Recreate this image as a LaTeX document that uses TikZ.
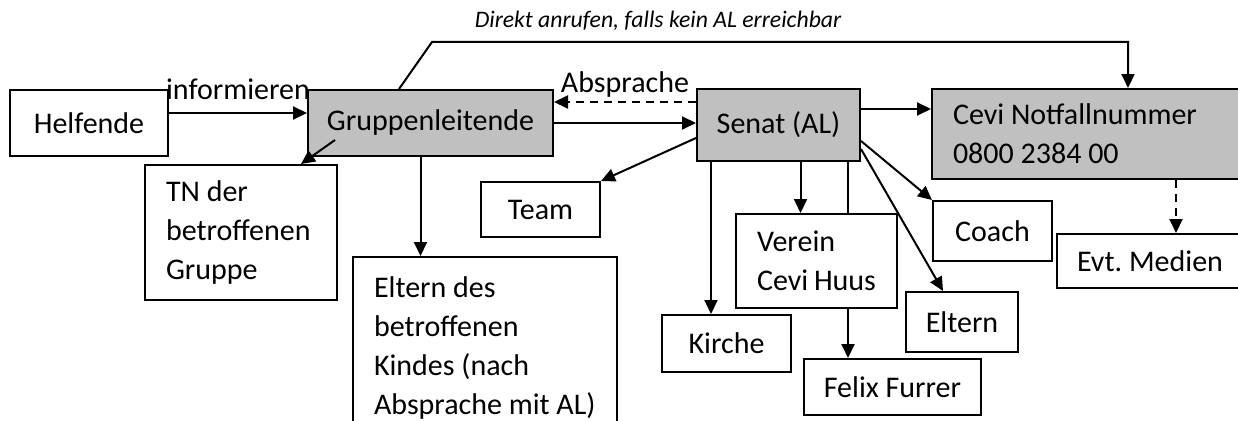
\documentclass[tikz,border=0pt]{standalone}
\usepackage{fontspec}
\setmainfont{Carlito}
\usetikzlibrary{arrows.meta,positioning}
\definecolor{boxgray}{HTML}{C0C0C0}

\begin{document}
\begin{tikzpicture}[x=1pt,y=-1pt,font=\fontsize{30}{39}\selectfont,
  box/.style={draw,line width=2pt,anchor=north west,inner sep=0pt,align=center},
  grey/.style={box,fill=boxgray},
  multi/.style={align=flush left,inner xsep=21pt},
  link/.style={line width=2pt,-{Triangle[length=14pt,width=13pt]}},
  dashpat/.style={dash pattern=on 8pt off 6pt}]
\clip (0,0) rectangle (1238,420);
% boxes
\node[box,minimum width=158pt,minimum height=66pt] (helf) at (9,89) {Helfende};
\node[grey,minimum width=245pt,minimum height=66pt] (grup) at (307,89) {Gruppenleitende};
\node[box,multi,text width=150pt,minimum height=135pt] (tn) at (144,164) {TN~der\\betroffenen\\Gruppe};
\node[box,multi,text width=222pt,minimum height=182pt] (kind) at (352,256) {Eltern~des\\betroffenen\\Kindes~(nach\\Absprache~mit~AL)};
\node[box,minimum width=119pt,minimum height=55pt] (team) at (480,181) {Team};
\node[grey,minimum width=163pt,minimum height=72pt] (senat) at (696,88) {Senat (AL)};
\node[grey,multi,text width=277pt,minimum height=90pt] (cevi) at (931,88) {Cevi~Notfallnummer\\0800~2384~00};
\node[box,minimum width=186pt,minimum height=54pt] (medien) at (1056,233) {Evt.\ Medien};
\node[box,minimum width=119pt,minimum height=60pt] (coach) at (932,200) {Coach};
\node[box,minimum width=129pt,minimum height=57pt] (kirche) at (661,314) {Kirche};
\node[box,multi,text width=119pt,minimum height=94pt] (verein) at (735,213) {Verein\\Cevi~Huus};
\node[box,minimum width=112pt,minimum height=60pt] (eltern) at (905,291) {Eltern};
\node[box,minimum width=177pt,minimum height=56pt] (felix) at (803,358) {Felix Furrer};
\node[font=\fontsize{23.7}{28}\selectfont\itshape,anchor=base] (hint) at (658,28) {Direkt anrufen, falls kein AL erreichbar};
% connectors
\draw[link] ([yshift=10pt]helf.east) -- node[above=12pt,inner sep=0pt] (info) {informieren} ([yshift=10pt]helf.east -| grup.west);
\draw[link,dashpat] ([yshift=23pt]senat.west) -- node[above=4pt,inner sep=0pt] (abspr) {Absprache} ([yshift=23pt]senat.west -| grup.east);
\draw[link] (grup.east) -- (grup.east -| senat.west);
\draw[link] ([xshift=28pt,yshift=17pt]grup.south west) -- ([xshift=-37pt]tn.north east);
\draw[link] ([xshift=-10pt]grup.south) -- ([xshift=-10pt]grup.south |- kind.north);
\draw[link] ([xshift=92pt]grup.north west) -- ++(33,-47) -| ([xshift=197pt]cevi.north west);
\draw[link] ([yshift=-13pt]senat.west) -- (team.north east);
\draw[link] ([yshift=16pt]senat.east) -- ([yshift=16pt]senat.east -| cevi.west);
\draw[link] ([xshift=15pt]senat.south west) -- ([xshift=15pt]senat.south west |- kirche.north);
\draw[link] ([xshift=22pt]senat.south) -- ([xshift=22pt]senat.south |- verein.north);
\draw[line width=2pt] ([xshift=-13pt]senat.south east) -- ([xshift=-13pt]senat.south east |- verein.north);
\draw[link] ([xshift=-13pt]senat.south east |- verein.south) -- ([xshift=-13pt]senat.south east |- felix.north);
\draw[link] ([yshift=-16pt]senat.east) -- (coach.north west);
\draw[link] ([yshift=-24pt]senat.east) -- ([xshift=38pt]eltern.north west);
\draw[link,dashpat] ([xshift=245pt]cevi.south west) -- ([xshift=245pt]cevi.south west |- medien.north);
\end{tikzpicture}
\end{document}
